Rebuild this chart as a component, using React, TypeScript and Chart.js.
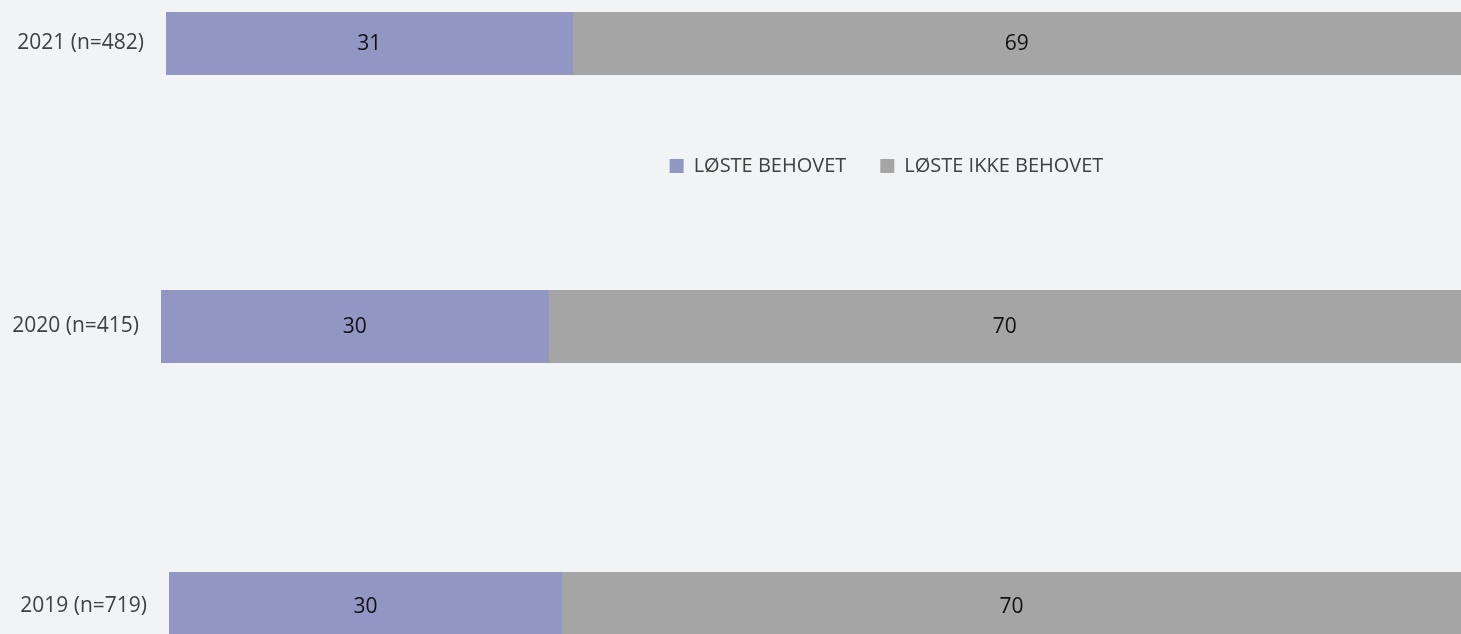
import { useEffect, useRef } from 'react';
import { Chart, registerables } from 'chart.js';

Chart.register(...registerables);

// ---- data ----
const seriesNames = ['LØSTE BEHOVET', 'LØSTE IKKE BEHOVET'];
const categories = ['2021 (n=482)', '2020 (n=415)', '2019 (n=719)'];
const solvedValues = [31.4, 29.8, 30.4];
const notSolvedValues = [68.6, 70.2, 69.6];

// ---- styles / layout ----
const seriesColors = ['#9196c3', '#a5a5a5'];
const BG = '#f2f3f5';
const TEXT = '#404040';
const FONT = '"Open Sans", "Noto Sans", sans-serif';
const panels = [
  { top: 0, height: 186, padTop: 12, axisWidth: 166, legend: true, gap: 47 },
  { top: 290, height: 73, padTop: 0, axisWidth: 161, legend: false, gap: 0 },
  { top: 572, height: 68, padTop: 0, axisWidth: 169, legend: false, gap: 0 },
];

const valueLabels = {
  id: 'valueLabels',
  afterDatasetsDraw(chart: any) {
    const ctx = chart.ctx;
    ctx.save();
    ctx.font = `21px ${FONT}`;
    ctx.fillStyle = '#111';
    ctx.textAlign = 'center';
    ctx.textBaseline = 'middle';
    chart.data.datasets.forEach((ds: any, di: number) => {
      const meta = chart.getDatasetMeta(di);
      meta.data.forEach((el: any, i: number) => {
        const c = el.getCenterPoint();
        ctx.fillText(String(Math.round(ds.data[i])), c.x, c.y + 1);
      });
    });
    ctx.restore();
  },
};

const legendShift = {
  id: 'legendShift',
  afterLayout(chart: any, _args: any, opts: any) {
    const l = chart.legend;
    if (l && opts && opts.dx) {
      l.left += opts.dx;
      l.right += opts.dx;
    }
  },
};

function Panel({ index }: { index: number }) {
  const ref = useRef<HTMLCanvasElement | null>(null);
  const p = panels[index];
  useEffect(() => {
    if (!ref.current) return;
    const chart = new Chart(ref.current, {
      type: 'bar',
      data: {
        labels: [categories[index]],
        datasets: [
          {
            label: seriesNames[0],
            data: [solvedValues[index]],
            backgroundColor: seriesColors[0],
            borderWidth: 0,
            barPercentage: 1,
            categoryPercentage: 1,
          },
          {
            label: seriesNames[1],
            data: [notSolvedValues[index]],
            backgroundColor: seriesColors[1],
            borderWidth: 0,
            barPercentage: 1,
            categoryPercentage: 1,
          },
        ],
      },
      options: {
        indexAxis: 'y',
        responsive: false,
        animation: false,
        devicePixelRatio: 1,
        layout: { padding: { top: p.padTop, left: 0, right: 0, bottom: 0 } },
        scales: {
          x: {
            stacked: true,
            min: 0,
            max: 100,
            display: p.legend,
            grid: { display: false, drawTicks: false },
            border: { display: false },
            ticks: { display: false },
            afterFit: (s: any) => {
              s.height = p.gap;
              s.paddingLeft = 0;
              s.paddingRight = 0;
            },
          },
          y: {
            stacked: true,
            grid: { display: false, drawTicks: false },
            border: { display: false },
            ticks: { color: TEXT, font: { family: FONT, size: 21 }, padding: 22 },
            afterFit: (s: any) => {
              s.width = p.axisWidth;
              s.paddingTop = 0;
              s.paddingBottom = 0;
            },
          },
        },
        plugins: {
          legend: {
            display: p.legend,
            position: 'bottom',
            labels: {
              boxWidth: 14,
              boxHeight: 14,
              padding: 34,
              color: TEXT,
              font: { family: FONT, size: 20 },
            },
          },
          tooltip: { enabled: false },
          legendShift: { dx: 156 },
        } as any,
      },
      plugins: [valueLabels, legendShift],
    } as any);
    return () => chart.destroy();
  }, [index]);
  return (
    <canvas
      ref={ref}
      width={1461}
      height={p.height}
      style={{ position: 'absolute', left: 0, top: p.top, width: 1461, height: p.height }}
    />
  );
}

export default function App() {
  useEffect(() => {
    document.body.style.margin = '0';
    document.body.style.background = BG;
  }, []);
  return (
    <div style={{ position: 'relative', width: 1461, height: 634, background: BG, overflow: 'hidden' }}>
      {panels.map((_, i) => (
        <Panel key={i} index={i} />
      ))}
    </div>
  );
}
